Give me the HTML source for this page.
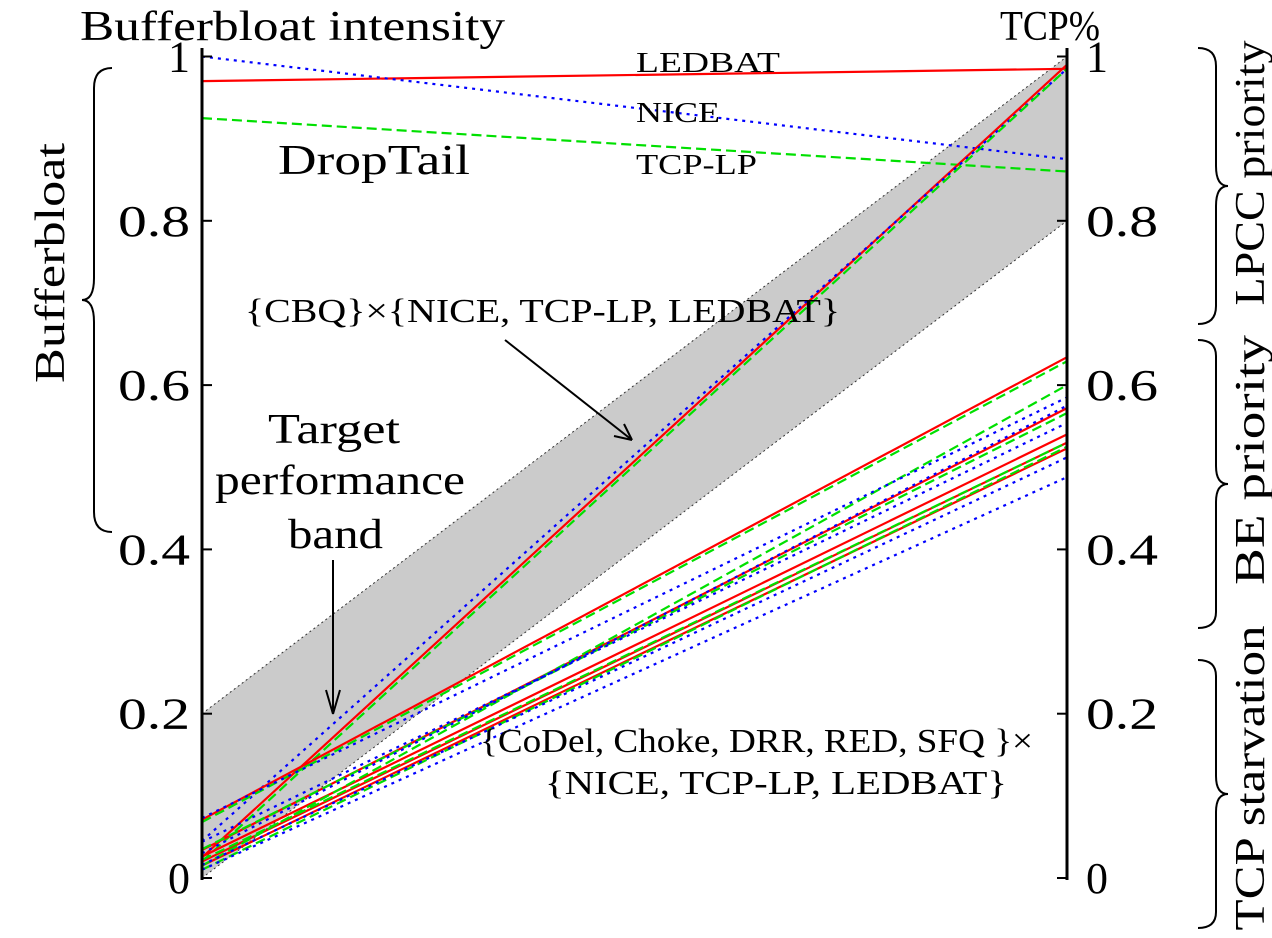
<!DOCTYPE html>
<html><head><meta charset="utf-8"><style>
body{margin:0;background:#fff}
svg{display:block;font-family:"Liberation Serif",serif}
</style></head><body>
<svg id="chart" width="1272" height="938" viewBox="0 0 1272 938">
<g id="band"></g>
<g id="lines"></g>
<g id="axes"></g>
<text x="80" y="40" font-size="42" textLength="425" lengthAdjust="spacingAndGlyphs">Bufferbloat intensity</text>
<text x="1000" y="40" font-size="42" textLength="100" lengthAdjust="spacingAndGlyphs">TCP%</text>
<text x="636" y="72" font-size="28" textLength="144" lengthAdjust="spacingAndGlyphs">LEDBAT</text>
<text x="636" y="122" font-size="28" textLength="84" lengthAdjust="spacingAndGlyphs">NICE</text>
<text x="636" y="174" font-size="28" textLength="121" lengthAdjust="spacingAndGlyphs">TCP-LP</text>
<text x="278" y="174" font-size="42" textLength="192" lengthAdjust="spacingAndGlyphs">DropTail</text>
<text x="245" y="322" font-size="34" textLength="595" lengthAdjust="spacingAndGlyphs">{CBQ}×{NICE, TCP-LP, LEDBAT}</text>
<line x1="505" y1="340" x2="632" y2="440" stroke="#000" stroke-width="2"/>
<path d="M632 440 l-18 -4 M632 440 l-8 -16" stroke="#000" stroke-width="2" fill="none"/>
<text x="268" y="443" font-size="42" textLength="132" lengthAdjust="spacingAndGlyphs">Target</text>
<text x="215" y="494" font-size="42" textLength="250" lengthAdjust="spacingAndGlyphs">performance</text>
<text x="288" y="548" font-size="42" textLength="95" lengthAdjust="spacingAndGlyphs">band</text>
<line x1="333" y1="560" x2="333" y2="712" stroke="#000" stroke-width="2"/>
<path d="M333 714 l-7 -24 M333 714 l7 -24" stroke="#000" stroke-width="2" fill="none"/>
<text x="480" y="752" font-size="34" textLength="553" lengthAdjust="spacingAndGlyphs">{CoDel, Choke, DRR, RED, SFQ }×</text>
<text x="545" y="794" font-size="34" textLength="462" lengthAdjust="spacingAndGlyphs">{NICE, TCP-LP, LEDBAT}</text>
<path d="M112 68 q-18 0 -18 20 v190 q0 22 -12 22 q12 0 12 22 v190 q0 20 18 20" stroke="#000" stroke-width="2" fill="none"/>
<text transform="translate(64,263) rotate(-90)" font-size="42" text-anchor="middle" textLength="240" lengthAdjust="spacingAndGlyphs">Bufferbloat</text>
<path d="M1198 48 q18 0 18 18 v100 q0 20 12 20 q-12 0 -12 20 v100 q0 18 -18 18" stroke="#000" stroke-width="2" fill="none"/>
<path d="M1198 340 q18 0 18 16 v110 q0 18 12 18 q-12 0 -12 18 v110 q0 16 -18 16" stroke="#000" stroke-width="2" fill="none"/>
<path d="M1198 660 q18 0 18 16 v100 q0 18 12 18 q-12 0 -12 18 v100 q0 16 -18 16" stroke="#000" stroke-width="2" fill="none"/>
<text transform="translate(1264,173) rotate(-90)" font-size="42" text-anchor="middle" textLength="265" lengthAdjust="spacingAndGlyphs">LPCC priority</text>
<text transform="translate(1264,460) rotate(-90)" font-size="42" text-anchor="middle" textLength="250" lengthAdjust="spacingAndGlyphs">BE priority</text>
<text transform="translate(1264,778) rotate(-90)" font-size="42" text-anchor="middle" textLength="305" lengthAdjust="spacingAndGlyphs">TCP starvation</text>
</svg>
<script>
const ticks=[0,0.2,0.4,0.6,0.8,1];
const tickLabels=["0","0.2","0.4","0.6","0.8","1"];
const bandLeft=[0,0.2];
const bandRight=[0.8,1.0];
const seriesLeft=[0.97,1.0,0.925, 0.025,0.045,0.02, 0.071,0.034,0.026,0.015,0.02, 0.068,0.035,0.022,0.015,0.01, 0.073,0.044,0.016,0.01,0.03];
const seriesRight=[0.985,0.875,0.86, 0.99,0.985,0.985, 0.634,0.572,0.540,0.523,0.53, 0.629,0.566,0.53,0.60,0.525, 0.585,0.554,0.512,0.488,0.575];
const seriesType=["LEDBAT","NICE","TCP-LP", "LEDBAT","NICE","TCP-LP", "LEDBAT","LEDBAT","LEDBAT","LEDBAT","LEDBAT", "TCP-LP","TCP-LP","TCP-LP","TCP-LP","TCP-LP", "NICE","NICE","NICE","NICE","NICE"];
const XL=202,XR=1067;
function y(v){return 878-v*821.5;}
const NS="http://www.w3.org/2000/svg";
function mk(t,a,p){const e=document.createElementNS(NS,t);for(const k in a)e.setAttribute(k,a[k]);p.appendChild(e);return e;}
const band=document.getElementById('band');
const poly=mk('polygon',{points:`${XL},${y(bandLeft[0])} ${XL},${y(bandLeft[1])} ${XR},${y(bandRight[1])} ${XR},${y(bandRight[0])}`,fill:'#cbcbcb'},band);


[[0,0],[1,1]].forEach(([a,b])=>{const l=mk('line',{x1:XL,y1:y(bandLeft[a]),x2:XR,y2:y(bandRight[b]),stroke:'#333','stroke-width':1,'stroke-dasharray':'2,3'},band);

});
const sty={"LEDBAT":{c:'#ff0000',d:''},"NICE":{c:'#0000ff',d:'3,5'},"TCP-LP":{c:'#00e000',d:'10,5'}};
const lines=document.getElementById('lines');
seriesLeft.forEach((v,i)=>{const s=sty[seriesType[i]];
const l=mk('line',{x1:XL,y1:y(v),x2:XR,y2:y(seriesRight[i]),stroke:s.c,'stroke-width':2.2,'stroke-dasharray':s.d},lines);

});
const ax=document.getElementById('axes');
mk('line',{x1:XL,y1:48,x2:XL,y2:880,stroke:'#000','stroke-width':3},ax);
mk('line',{x1:XR,y1:48,x2:XR,y2:880,stroke:'#000','stroke-width':3},ax);
ticks.forEach((t,i)=>{
mk('line',{x1:XL,y1:y(t),x2:XL+10,y2:y(t),stroke:'#000','stroke-width':2},ax);
mk('line',{x1:XR-10,y1:y(t),x2:XR,y2:y(t),stroke:'#000','stroke-width':2},ax);
const w=tickLabels[i].length>1?72:22;
const a=mk('text',{x:190-w,y:y(t)+15,'font-size':44,textLength:w,lengthAdjust:'spacingAndGlyphs'},ax);a.textContent=tickLabels[i];


const b=mk('text',{x:1086,y:y(t)+15,'font-size':44,textLength:w,lengthAdjust:'spacingAndGlyphs'},ax);b.textContent=tickLabels[i];


});
</script>
</body></html>
